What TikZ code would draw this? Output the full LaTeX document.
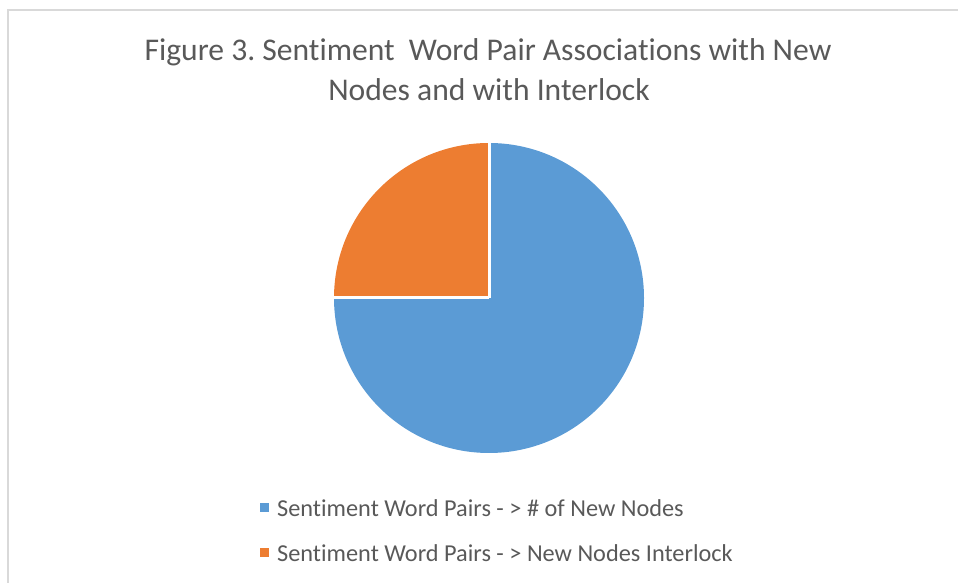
\documentclass[tikz,border=0pt]{standalone}
\usepackage{fontspec}
\setmainfont[Ligatures={NoCommon}]{Carlito}
\frenchspacing
\definecolor{sliceblue}{HTML}{5B9BD5}
\definecolor{sliceorange}{HTML}{ED7D31}
\definecolor{txtgray}{HTML}{595959}
\definecolor{framegray}{HTML}{D9D9D9}
\tikzset{
  slice/.style={draw=white, line width=3pt, line join=miter},
  title/.style={text=txtgray, font=\fontsize{31.6}{38}\selectfont, align=center, inner sep=0pt},
  legtext/.style={text=txtgray, font=\fontsize{24.3}{29}\selectfont, anchor=west, inner sep=0pt},
  legkey/.style={minimum size=9pt, inner sep=0pt}
}
\begin{document}
\begin{tikzpicture}[x=1pt, y=1pt]
  \useasboundingbox (0,0) rectangle (958,583);
  % chart frame, cut off at the right and bottom
  \draw[framegray, line width=2pt] (8,0) -- (8,573) -- (958,573);
  % title
  \node[title] (t1) at (488,531) {Figure 3. Sentiment~ Word Pair Associations with New};
  \node[title] (t2) at (489,493) {Nodes and with Interlock};
  % pie: 75% blue, 25% orange
  \coordinate (c) at (489,285);
  \fill[sliceblue] (c) -- ++(0,155) arc[start angle=90, end angle=-180, radius=155] -- cycle;
  \fill[sliceorange] (c) -- ++(-155,0) arc[start angle=180, end angle=90, radius=155] -- cycle;
  \draw[slice] (c) -- ++(0,156);
  \draw[slice] (c) -- ++(-156,0);
  % legend
  \node[legkey, fill=sliceblue] (k1) at (264,75) {};
  \node[legtext] (l1) at (277,75) {Sentiment Word Pairs - > \# of New Nodes};
  \node[legkey, fill=sliceorange] (k2) at (264,30) {};
  \node[legtext] (l2) at (277,30) {Sentiment Word Pairs - > New Nodes Interlock};
\end{tikzpicture}
\end{document}
